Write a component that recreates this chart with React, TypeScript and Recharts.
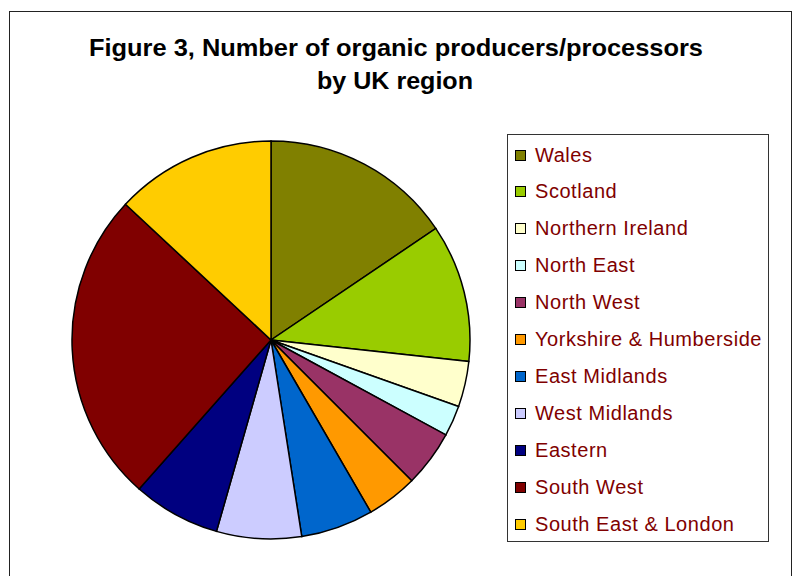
import React from "react";
import { PieChart, Pie, Cell, Legend } from "recharts";

const regions = [
  "Wales",
  "Scotland",
  "Northern Ireland",
  "North East",
  "North West",
  "Yorkshire & Humberside",
  "East Midlands",
  "West Midlands",
  "Eastern",
  "South West",
  "South East & London",
];
const producers = [559, 403, 133, 90, 165, 149, 212, 248, 256, 915, 470];
const colors = [
  "#808000",
  "#99CC00",
  "#FFFFCC",
  "#CCFFFF",
  "#993366",
  "#FF9900",
  "#0066CC",
  "#CCCCFF",
  "#000080",
  "#800000",
  "#FFCC00",
];
const titleLines = ["Figure 3, Number of organic producers/processors", "by UK region"];

const data = regions.map((name, i) => ({ name, value: producers[i] }));

const FONT = "'Liberation Sans', Arial, Helvetica, sans-serif";

const LegendContent = () => (
  <div
    style={{
      position: "relative",
      width: 262,
      height: 408,
      boxSizing: "border-box",
      border: "1px solid #333",
      background: "#fff",
      fontFamily: FONT,
    }}
  >
    {regions.map((r, i) => (
      <div
        key={r}
        style={{
          position: "absolute",
          left: 7,
          top: 20 + i * 36.9 - 12,
          height: 24,
          display: "flex",
          alignItems: "center",
          whiteSpace: "nowrap",
        }}
      >
        <span
          style={{
            display: "inline-block",
            width: 9,
            height: 9,
            background: colors[i],
            border: "1.5px solid #000",
            marginRight: 9,
          }}
        />
        <span style={{ fontSize: 20, letterSpacing: 0.55, color: "#800000" }}>{r}</span>
      </div>
    ))}
  </div>
);

export default function App() {
  return (
    <div style={{ position: "absolute", left: 0, top: 0, width: 798, height: 576, background: "#fff", overflow: "hidden" }}>
      <div
        style={{
          position: "absolute",
          left: 9,
          top: 11,
          width: 783,
          height: 600,
          boxSizing: "border-box",
          border: "1.5px solid #222",
        }}
      />
      <svg width={798} height={110} style={{ position: "absolute", left: 0, top: 0 }}>
        <text
          x={89}
          y={56}
          textLength={614}
          lengthAdjust="spacingAndGlyphs"
          fontFamily={FONT}
          fontWeight="bold"
          fontSize={24}
          fill="#000"
        >
          {titleLines[0]}
        </text>
        <text
          x={317}
          y={88.5}
          textLength={156}
          lengthAdjust="spacingAndGlyphs"
          fontFamily={FONT}
          fontWeight="bold"
          fontSize={24}
          fill="#000"
        >
          {titleLines[1]}
        </text>
      </svg>
      <div style={{ position: "absolute", left: 0, top: 0 }}>
        <PieChart width={798} height={576} margin={{ top: 0, right: 0, bottom: 0, left: 0 }}>
          <Pie
            data={data}
            dataKey="value"
            nameKey="name"
            cx={271}
            cy={340}
            outerRadius={199}
            startAngle={90}
            endAngle={-270}
            stroke="#000"
            strokeWidth={1.5}
            isAnimationActive={false}
            label={false}
            labelLine={false}
          >
            {data.map((d, i) => (
              <Cell key={d.name} fill={colors[i]} />
            ))}
          </Pie>
          <Legend
            layout="vertical"
            align="right"
            verticalAlign="top"
            content={<LegendContent />}
            wrapperStyle={{ position: "absolute", left: 507, top: 134, width: 262, height: 408 }}
          />
        </PieChart>
      </div>
    </div>
  );
}
